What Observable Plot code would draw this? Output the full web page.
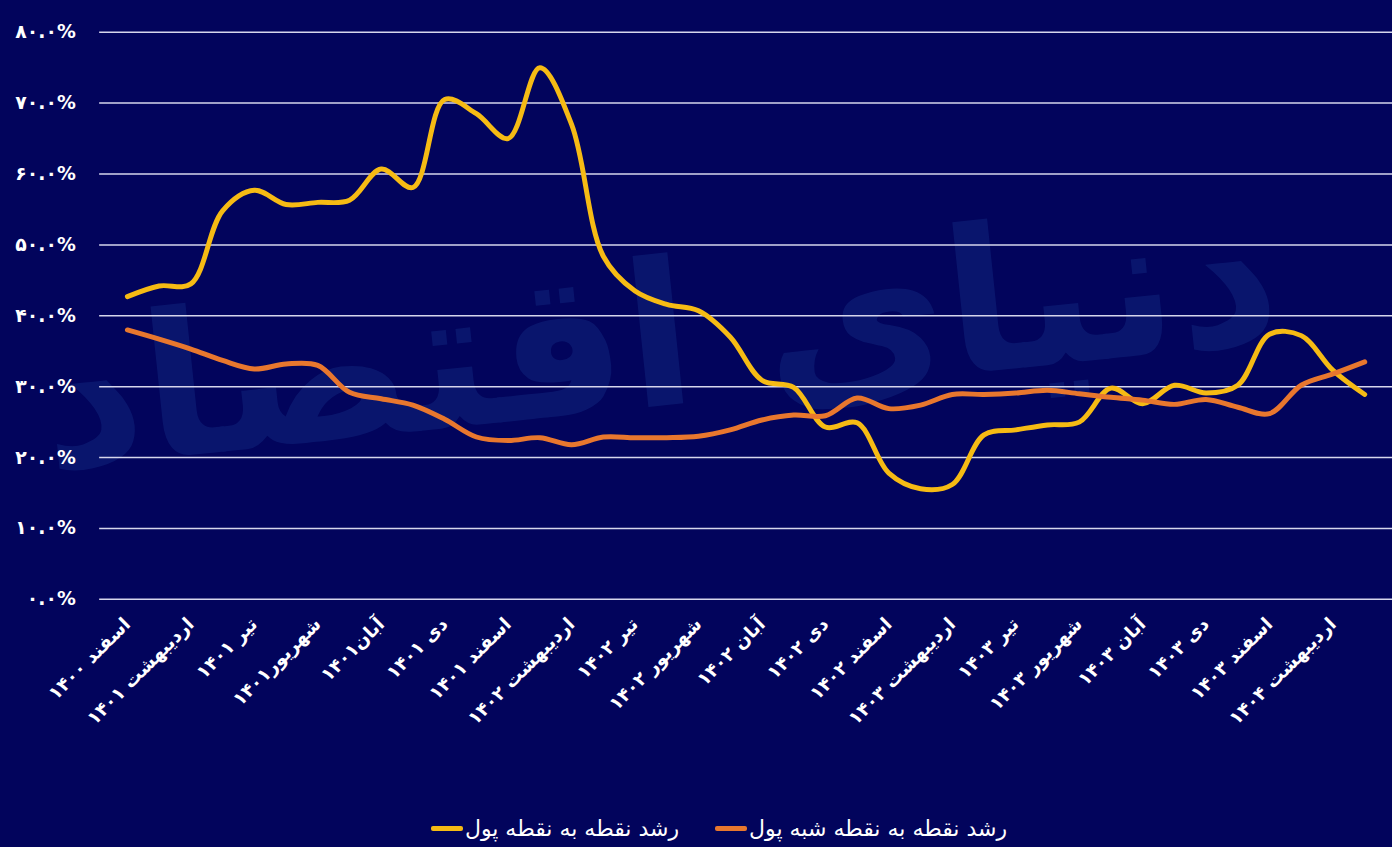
<!DOCTYPE html>
<html lang="fa">
<head>
<meta charset="utf-8">
<script src="https://cdn.jsdelivr.net/npm/d3@7"></script>
<script src="https://cdn.jsdelivr.net/npm/@observablehq/plot@0.6"></script>
<style>
  html, body { margin: 0; padding: 0; width: 1392px; height: 847px; overflow: hidden; background: #02045c; }
  #wrap { position: relative; width: 1392px; height: 847px; overflow: hidden; }
  #wm { position: absolute; left: 160px; top: 200px; width: 1120px; text-align: center; font-family: "DejaVu Sans"; font-weight: bold; font-size: 200px; line-height: 260px; color: #1a3f96; opacity: 0.3; direction: rtl; white-space: nowrap; transform: rotate(-6deg); }
  #chart { position: absolute; left: 0; top: 0; }
  #chart svg text { font-weight: bold; }
  #legend { position: absolute; left: 0; top: 806px; width: 1392px; padding-left: 46px; box-sizing: border-box; display: flex; justify-content: center; align-items: center; direction: rtl; gap: 36px; font-family: "DejaVu Sans"; font-size: 22px; color: #fff; height: 44px; }
  .item { display: flex; align-items: center; direction: rtl; }
  .sw { width: 32px; height: 5px; border-radius: 2px; margin-right: 2px; }
</style>
</head>
<body>
<div id="wrap">
  <div id="wm">دنیای اقتصاد</div>
  <div id="chart"></div>
  <div id="legend"></div>
</div>
<script>
const months = [
  "اسفند ۱۴۰۰", "فروردین ۱۴۰۱", "اردیبهشت ۱۴۰۱", "خرداد ۱۴۰۱", "تیر ۱۴۰۱", "مرداد ۱۴۰۱",
  "شهریور۱۴۰۱", "مهر ۱۴۰۱", "آبان۱۴۰۱", "آذر ۱۴۰۱", "دی ۱۴۰۱", "بهمن ۱۴۰۱",
  "اسفند ۱۴۰۱", "فروردین ۱۴۰۲", "اردیبهشت ۱۴۰۲", "خرداد ۱۴۰۲", "تیر ۱۴۰۲", "مرداد ۱۴۰۲",
  "شهریور ۱۴۰۲", "مهر ۱۴۰۲", "آبان ۱۴۰۲", "آذر ۱۴۰۲", "دی ۱۴۰۲", "بهمن ۱۴۰۲",
  "اسفند ۱۴۰۲", "فروردین ۱۴۰۳", "اردیبهشت ۱۴۰۳", "خرداد ۱۴۰۳", "تیر ۱۴۰۳", "مرداد ۱۴۰۳",
  "شهریور ۱۴۰۳", "مهر ۱۴۰۳", "آبان ۱۴۰۳", "آذر ۱۴۰۳", "دی ۱۴۰۳", "بهمن ۱۴۰۳",
  "اسفند ۱۴۰۳", "فروردین ۱۴۰۴", "اردیبهشت ۱۴۰۴", "خرداد ۱۴۰۴"
];
const tickLabels = months.filter((d, i) => i % 2 === 0);

const money = [
  42.7, 44.2, 44.5, 54.8, 57.7, 55.7, 56.0, 56.3, 60.7, 58.1,
  70.5, 68.5, 65.0, 75.0, 67.0, 48.4, 43.5, 41.6, 40.7, 37.0,
  30.9, 29.9, 24.3, 24.9, 17.8, 15.6, 16.2, 23.2, 23.9, 24.6,
  25.0, 29.8, 27.6, 30.2, 29.1, 30.2, 37.4, 37.2, 32.3, 28.9
];
const quasiMoney = [
  38.0, 36.7, 35.3, 33.7, 32.5, 33.2, 33.0, 29.2, 28.3, 27.4,
  25.4, 22.9, 22.4, 22.8, 21.8, 22.9, 22.8, 22.8, 23.0, 23.9,
  25.3, 26.0, 25.9, 28.4, 26.9, 27.4, 28.9, 28.9, 29.1, 29.5,
  29.0, 28.5, 28.1, 27.5, 28.2, 27.1, 26.2, 30.2, 31.8, 33.5
];
const yTicks = [0, 10, 20, 30, 40, 50, 60, 70, 80];
const seriesNames = ["رشد نقطه به نقطه شبه پول", "رشد نقطه به نقطه پول"];
const seriesColors = ["#e8772e", "#f6bb14"];

const faDigits = "۰۱۲۳۴۵۶۷۸۹";
const toFa = s => String(s).replace(/\d/g, d => faDigits[+d]);

const chart = Plot.plot({
  width: 1404,
  height: 806,
  marginLeft: 100,
  marginRight: 0,
  marginTop: 32,
  marginBottom: 202,
  style: { background: "transparent", color: "#ffffff", fontFamily: "DejaVu Sans", overflow: "visible" },
  x: { type: "point", domain: months, padding: 0.5, axis: null },
  y: { domain: [0, 80], axis: null },
  marks: [
    Plot.ruleY(yTicks, { stroke: "#d6d6ec", strokeWidth: 1.5 }),
    Plot.axisY({ ticks: yTicks, tickSize: 0, tickPadding: 24, fontSize: 19, fill: "#ffffff",
      tickFormat: d => toFa(d.toFixed(1)) + "%" }),
    Plot.axisX({ ticks: tickLabels, tickSize: 0, tickPadding: 22, tickRotate: -45, fontSize: 18.5, fill: "#ffffff",
      tickFormat: d => d }),
    Plot.line(months, { x: months, y: money, stroke: seriesColors[1], strokeWidth: 5, curve: "catmull-rom" }),
    Plot.line(months, { x: months, y: quasiMoney, stroke: seriesColors[0], strokeWidth: 5, curve: "catmull-rom" })
  ]
});
document.getElementById("chart").appendChild(chart);

const legend = document.getElementById("legend");
seriesNames.forEach((name, i) => {
  const item = document.createElement("div");
  item.className = "item";
  const t = document.createElement("span");
  t.textContent = name;
  const sw = document.createElement("span");
  sw.className = "sw";
  sw.style.background = seriesColors[i];
  item.appendChild(t);
  item.appendChild(sw);
  legend.appendChild(item);
});
</script>
</body>
</html>
